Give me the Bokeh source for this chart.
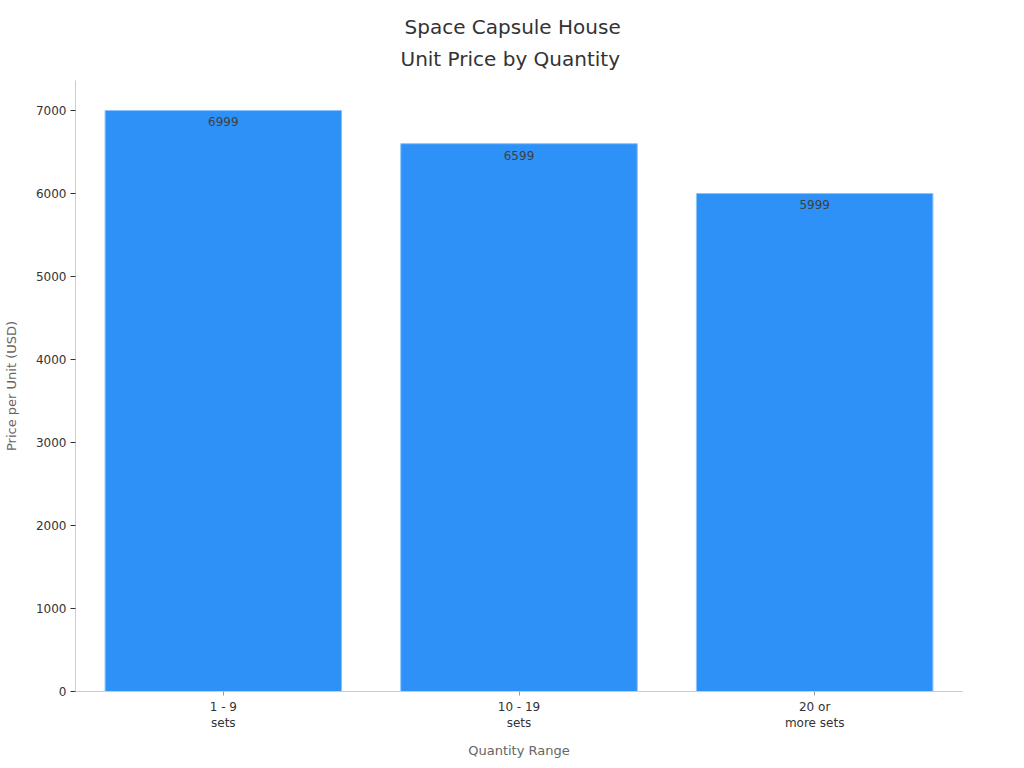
from bokeh.plotting import figure
from bokeh.models import ColumnDataSource, Range1d, FactorRange, Title
from bokeh.embed import file_html
from bokeh.resources import INLINE
from bokeh.core.properties import value

categories = ["1 - 9\nsets", "10 - 19\nsets", "20 or\nmore sets"]
prices = [6999, 6599, 5999]
labels = [str(v) for v in prices]
title_lines = ["Space Capsule House", "Unit Price by Quantity"]

src = ColumnDataSource(dict(cat=categories, price=prices, label=labels))

FONT = "DejaVu Sans"
YMAX = 7360

p = figure(
    x_range=FactorRange(*categories, range_padding=0),
    y_range=Range1d(0, YMAX),
    frame_width=887, frame_height=611,
    width=1000, height=750,
    min_border_left=68, min_border_right=45, min_border_top=80, min_border_bottom=59,
    output_backend="svg", toolbar_location=None,
)

p.vbar(x="cat", top="price", width=0.8, source=src,
       fill_color="#2E91F8", line_color="#8CC4FB", line_width=1)

p.text(x="cat", y="price", text="label", source=src,
       text_align="center", text_baseline="top", y_offset=7,
       text_font=value(FONT), text_font_size="12px", text_color="#404040")

# two title lines, each left-aligned with an offset so they centre on the page
t2 = Title(text=title_lines[1], align="left", offset=325, standoff=20,
           text_font=FONT, text_font_size="20px", text_font_style="normal",
           text_color="#333333")
t1 = Title(text=title_lines[0], align="left", offset=329, standoff=-9,
           text_font=FONT, text_font_size="20px", text_font_style="normal",
           text_color="#333333")
p.add_layout(t2, "above")
p.add_layout(t1, "above")

p.xgrid.grid_line_color = None
p.ygrid.grid_line_color = None
p.outline_line_color = None

for ax in (p.xaxis[0], p.yaxis[0]):
    ax.axis_line_color = "#cccccc"
    ax.major_label_text_font = FONT
    ax.major_label_text_font_size = "12px"
    ax.major_label_text_color = "#333333"
    ax.axis_label_text_font = FONT
    ax.axis_label_text_font_size = "13px"
    ax.axis_label_text_font_style = "normal"
    ax.axis_label_text_color = "#666666"
    ax.minor_tick_line_color = None

p.yaxis.axis_label = "Price per Unit (USD)"
p.yaxis.ticker = [0, 1000, 2000, 3000, 4000, 5000, 6000, 7000]
p.yaxis.major_tick_line_color = "#333333"
p.yaxis.major_tick_out = 5
p.yaxis.major_tick_in = 0
p.yaxis.major_label_standoff = 4
p.yaxis.axis_label_standoff = 14

p.xaxis.axis_label = "Quantity Range"
p.xaxis.major_tick_line_color = "#999999"
p.xaxis.major_tick_out = 4
p.xaxis.major_tick_in = 0
p.xaxis.major_label_standoff = 4
p.xaxis.axis_label_standoff = 10
p.xaxis.major_label_orientation = "horizontal"

open("out.html", "w").write(file_html(p, INLINE))
